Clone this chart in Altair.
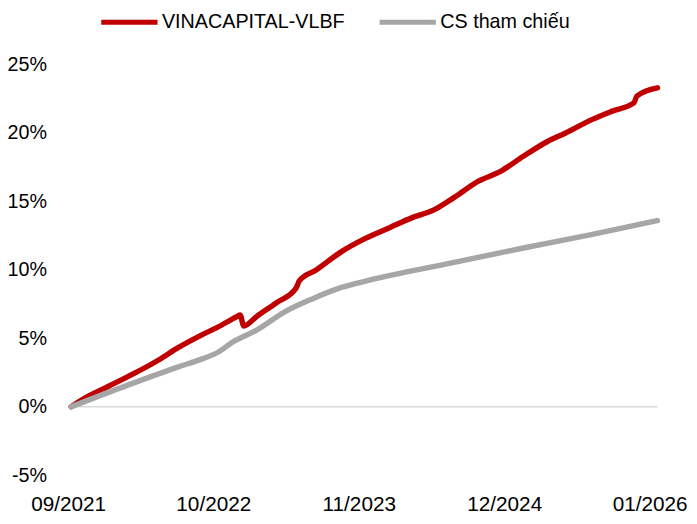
import altair as alt
import pandas as pd

# ---- data ----
series_names = ["VINACAPITAL-VLBF", "CS tham chiếu"]
series_colors = ["#C00000", "#A6A6A6"]

fund_dates = [
    "2021-09-09", "2021-10-14", "2021-12-20", "2022-02-25", "2022-05-04",
    "2022-06-26", "2022-08-27", "2022-10-12", "2022-12-05", "2022-12-13",
    "2022-12-23", "2023-01-27", "2023-03-22", "2023-05-15", "2023-05-23",
    "2023-07-08", "2023-09-13", "2023-11-19", "2024-01-25", "2024-03-24",
    "2024-05-25", "2024-07-18", "2024-09-23", "2024-11-21", "2025-01-22",
    "2025-03-30", "2025-05-17", "2025-07-29", "2025-09-21", "2025-11-19",
    "2025-11-27", "2026-01-22",
]
fund_values = [
    0.0, 0.6, 1.5, 2.4, 3.4,
    4.3, 5.2, 5.8, 6.6, 6.7,
    5.9, 6.6, 7.6, 8.7, 9.2,
    10.0, 11.3, 12.3, 13.1, 13.8,
    14.4, 15.3, 16.5, 17.2, 18.3,
    19.4, 20.0, 21.0, 21.6, 22.2,
    22.7, 23.3,
]

bench_dates = [
    "2021-09-09", "2022-02-12", "2022-06-26", "2022-09-01", "2022-10-15",
    "2022-11-21", "2023-01-27", "2023-04-18", "2023-06-29", "2023-09-13",
    "2023-12-08", "2024-06-21", "2025-01-22", "2025-07-29", "2026-01-22",
]
bench_values = [
    0.0, 1.6, 2.9, 3.5, 4.0,
    4.7, 5.6, 7.0, 7.9, 8.7,
    9.3, 10.4, 11.6, 12.6, 13.6,
]

x_tick_dates = [(2021, 9), (2022, 10), (2023, 11), (2024, 12), (2026, 1)]
y_ticks = [-0.05, 0.0, 0.05, 0.10, 0.15, 0.20, 0.25]

# ---- build table ----
df = pd.concat([
    pd.DataFrame({"date": pd.to_datetime(fund_dates),
                  "value": [v / 100 for v in fund_values],
                  "series": series_names[0], "ord": 0}),
    pd.DataFrame({"date": pd.to_datetime(bench_dates),
                  "value": [v / 100 for v in bench_values],
                  "series": series_names[1], "ord": 1}),
], ignore_index=True)

FONT = "Liberation Sans"

x_scale = alt.Scale(domain=[alt.DateTime(year=2021, month=9, date=1),
                            alt.DateTime(year=2026, month=1, date=22)])
y_scale = alt.Scale(domain=[-0.05, 0.25], nice=False, zero=False)

zero = alt.Chart(pd.DataFrame({"v": [0.0]})).mark_rule(
    color="#D9D9D9", strokeWidth=1.5
).encode(y=alt.Y("v:Q", scale=y_scale))

lines = alt.Chart(df).mark_line(
    strokeWidth=5.5, strokeCap="round", strokeJoin="round", interpolate="monotone"
).encode(
    x=alt.X("date:T", scale=x_scale, title=None,
            axis=alt.Axis(values=[alt.DateTime(year=y, month=m, date=1) for y, m in x_tick_dates],
                          format="%m/%Y", domain=False, ticks=False, grid=False,
                          labelPadding=19, labelFlush=False, labelOverlap=False,
                          labelFontSize=21)),
    y=alt.Y("value:Q", scale=y_scale, title=None,
            axis=alt.Axis(values=y_ticks, labelExpr="round(datum.value * 100) + '%'",
                          domain=False, ticks=False,
                          grid=False, labelPadding=22, labelFontSize=20)),
    color=alt.Color("series:N",
                    scale=alt.Scale(domain=series_names, range=series_colors),
                    legend=alt.Legend(orient="none", legendX=31, legendY=-74,
                                      direction="horizontal", title=None,
                                      symbolType="stroke", symbolSize=3249,
                                      symbolStrokeWidth=5, labelFontSize=20,
                                      labelFont=FONT, labelColor="#000000",
                                      labelOffset=2, columnPadding=24, labelLimit=0)),
    order=alt.Order("ord:Q"),
)

chart = alt.layer(zero, lines).properties(
    width=597, height=416,
    padding={"left": 61, "top": 54, "right": 32, "bottom": 38},
    autosize=alt.AutoSizeParams(type="none"),
).configure_view(stroke=None).configure_axis(
    labelFont=FONT, labelColor="#000000"
)

chart.save("out.html", embed_options={"renderer": "svg", "actions": False})
